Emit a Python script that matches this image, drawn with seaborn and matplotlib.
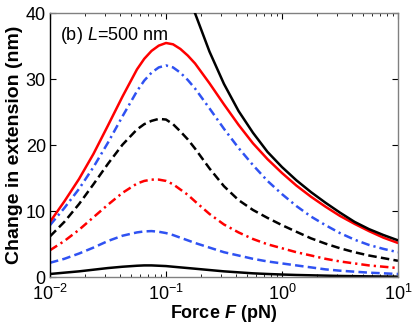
"""
Change in extension vs. force, L = 500 nm panel (b).
"""

import numpy as np
import pandas as pd
import matplotlib
matplotlib.use('Agg')
import matplotlib.pyplot as plt
import seaborn as sns

# force grid (pN), 1/8 decade steps, 1/16 around the maxima
force = [0.01, 0.0133, 0.0178, 0.0237, 0.0316, 0.0422, 0.0562, 0.0649,
         0.075, 0.0866, 0.1, 0.115, 0.133, 0.154, 0.178, 0.237, 0.316,
         0.422, 0.562, 0.75, 1.0, 1.33, 1.78, 2.37, 3.16, 4.22, 5.62,
         7.5, 10.0]

# top black curve only enters the frame near F ~ 0.17 pN
force_top = [0.133, 0.178, 0.237, 0.316, 0.422, 0.562, 0.75, 1.0,
             1.33, 1.78, 2.37, 3.16, 4.22, 5.62, 7.5, 10.0]
black_top = [46.5, 40.0, 34.2, 29.3, 25.2, 21.9, 19.0, 16.7,
             14.7, 12.9, 11.3, 9.8, 8.4, 7.3, 6.4, 5.6]

red_solid = [8.4, 11.5, 14.9, 18.7, 23.0, 27.4, 31.5, 33.1,
             34.3, 35.1, 35.5, 35.3, 34.6, 33.6, 32.4, 29.4, 26.2,
             23.1, 20.3, 17.9, 15.8, 13.9, 12.2, 10.7, 9.3, 8.1, 7.0,
             6.0, 5.2]
blue_dashdot = [7.9, 10.5, 13.4, 16.7, 20.4, 24.4, 28.2, 29.8,
                31.0, 31.8, 32.1, 31.8, 31.0, 29.9, 28.6, 25.6, 22.5,
                19.6, 17.0, 14.6, 12.6, 10.8, 9.2, 7.9, 6.7, 5.7, 4.9,
                4.3, 3.8]
black_dashed = [6.2, 8.4, 11.1, 14.1, 17.2, 20.1, 22.4, 23.2,
                23.7, 24.0, 23.9, 23.2, 22.1, 20.9, 19.5, 16.5, 13.8,
                11.7, 10.2, 9.0, 7.9, 6.9, 5.9, 5.1, 4.4, 3.8, 3.3,
                2.9, 2.5]
red_dashdot = [4.1, 5.5, 7.2, 9.1, 11.0, 12.8, 14.2, 14.6,
               14.8, 14.8, 14.6, 14.1, 13.3, 12.5, 11.5, 9.6, 8.0,
               6.8, 5.8, 5.0, 4.4, 3.8, 3.3, 2.8, 2.4, 2.1, 1.8,
               1.6, 1.4]
blue_dashed = [2.2, 2.8, 3.6, 4.5, 5.5, 6.3, 6.8, 6.95,
               7.0, 6.9, 6.7, 6.4, 6.0, 5.6, 5.2, 4.5, 3.8,
               3.3, 2.8, 2.4, 2.1, 1.8, 1.5, 1.2, 1.0, 0.85, 0.7,
               0.6, 0.5]
black_bottom = [0.5, 0.7, 0.9, 1.15, 1.4, 1.6, 1.75, 1.8,
                1.8, 1.75, 1.7, 1.6, 1.5, 1.4, 1.3, 1.1, 0.9,
                0.75, 0.6, 0.5, 0.42, 0.35, 0.3, 0.25, 0.2, 0.17, 0.14,
                0.12, 0.1]

sns.set_style('ticks')
plt.rcParams['font.family'] = ['Liberation Sans', 'DejaVu Sans']
plt.rcParams['mathtext.fontset'] = 'custom'
plt.rcParams['mathtext.rm'] = 'Liberation Sans'
plt.rcParams['mathtext.it'] = 'Liberation Sans:italic'
plt.rcParams['mathtext.bf'] = 'Liberation Sans:bold'
plt.rcParams['mathtext.bfit'] = 'Liberation Sans:bold:italic'
plt.rcParams['text.color'] = 'black'
plt.rcParams['axes.labelcolor'] = 'black'
plt.rcParams['xtick.color'] = 'black'
plt.rcParams['ytick.color'] = 'black'

RED = '#FF0000'
BLUE = '#2F52F2'
BLACK = '#000000'
LW = 1.8
DASH = (3.4, 1.7)
DASHDOT = (3.4, 1.6, 0.9, 1.6)

fig = plt.figure(figsize=(4.15, 3.25), dpi=100)
ax = fig.add_axes([0.1205, 0.1468, 0.8385, 0.8123])

# (x, y, colour, dashes or None for solid, zorder)
curves = [
    (force, black_bottom, BLACK, None, 2),
    (force, blue_dashed, BLUE, DASH, 2),
    (force, red_dashdot, RED, DASHDOT, 2),
    (force, black_dashed, BLACK, DASH, 2),
    (force, blue_dashdot, BLUE, DASHDOT, 2),
    (force, red_solid, RED, None, 2),
    (force_top, black_top, BLACK, None, 3),
]
for fx, fy, col, dash, z in curves:
    df = pd.DataFrame({'F': fx, 'dz': fy})
    kw = dict(color=col, linewidth=LW, zorder=z)
    if dash is not None:
        kw['dashes'] = dash
    sns.lineplot(data=df, x='F', y='dz', ax=ax, **kw)

ax.set_xscale('log')
ax.set_xlim(1e-2, 1e1)
ax.set_ylim(0, 40)
ax.set_yticks([0, 10, 20, 30, 40])

ax.tick_params(which='both', direction='in', top=True, right=True,
               labelsize=13)
ax.tick_params(axis='x', pad=5)
ax.tick_params(axis='y', pad=3)
ax.tick_params(which='major', length=4)
ax.tick_params(which='minor', length=2)

for side in ['top', 'right', 'bottom']:
    ax.spines[side].set_color('#808080')
ax.spines['left'].set_color('black')
for side in ax.spines:
    ax.spines[side].set_linewidth(1.0)

ax.set_xlabel(r'Force $\mathbfit{F}$ (pN)', fontsize=13, fontweight='bold',
              labelpad=-1)
ax.set_ylabel('Change in extension (nm)', fontsize=14, fontweight='bold',
              labelpad=2)

ax.text(0.028, 0.955, r'(b) $L$=500 nm', transform=ax.transAxes,
        fontsize=13, va='top', ha='left')

fig.savefig('out.png', dpi=100)
